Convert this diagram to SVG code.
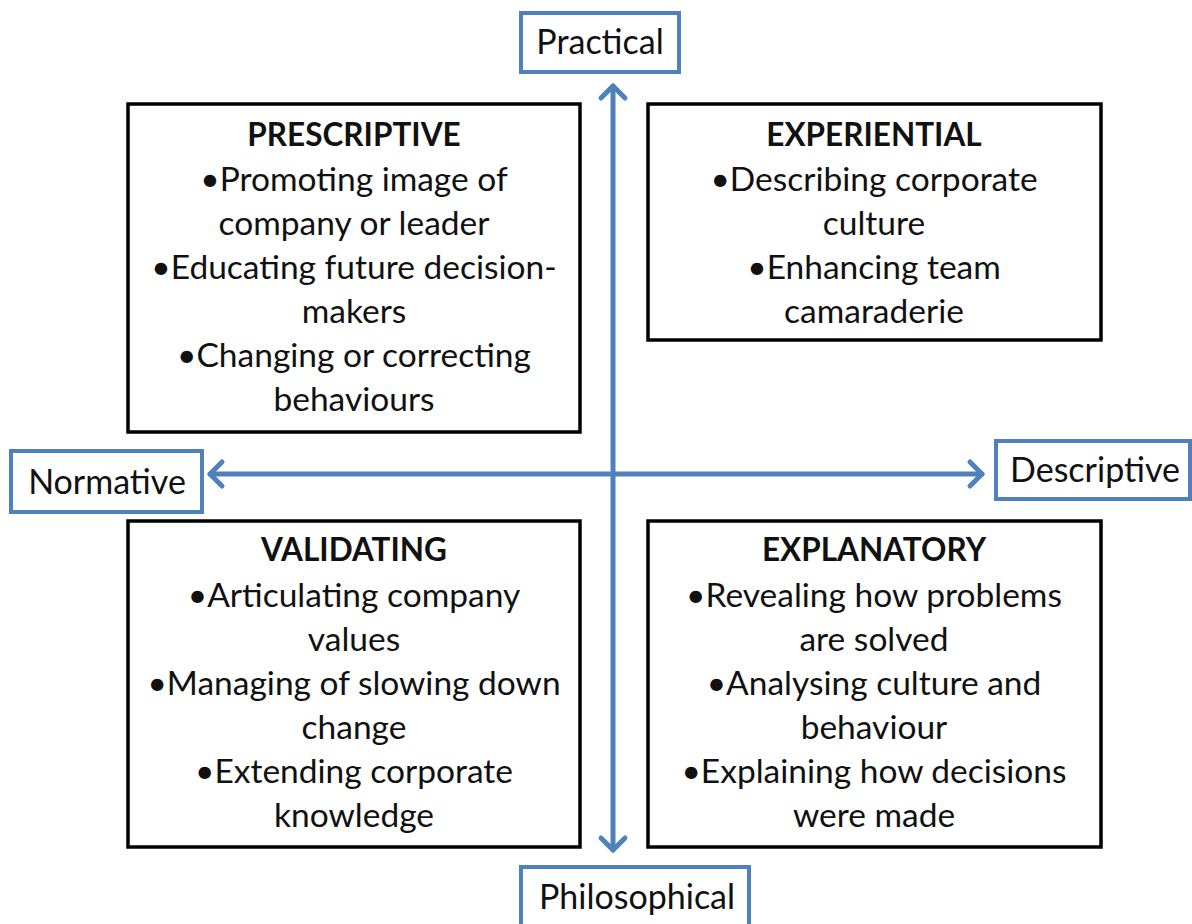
<svg xmlns="http://www.w3.org/2000/svg" width="1192" height="924" viewBox="0 0 1192 924">
<style>
.box{fill:#fff;stroke:#000;stroke-width:3.5}
.lbl{fill:#fff;stroke:#4f81bd;stroke-width:4}
.ax{fill:none;stroke:#4f81bd;stroke-width:5;stroke-linecap:round;stroke-linejoin:round}
text{font-family:Lato,"Open Sans","Liberation Sans",sans-serif;fill:#111;text-anchor:middle}
.t{font-size:31.5px;font-weight:bold}
.b{font-size:33.5px}
.l{font-size:34px}
</style>
<rect width="1192" height="924" fill="#fff"/>
<g id="axes">
<line class="ax" x1="613" y1="86" x2="613" y2="850"/>
<polyline class="ax" points="601,98 613,86 625,98"/>
<polyline class="ax" points="601,838 613,850 625,838"/>
<line class="ax" x1="210" y1="474" x2="982" y2="474"/>
<polyline class="ax" points="222,462 210,474 222,486"/>
<polyline class="ax" points="970,462 982,474 970,486"/>
</g>
<g id="practical">
<rect class="lbl" x="521" y="13" width="158" height="59"/>
<text class="l" x="600" y="54">Practical</text>
</g>
<g id="normative">
<rect class="lbl" x="11" y="451" width="191" height="61"/>
<text class="l" x="107" y="494">Normative</text>
</g>
<g id="descriptive">
<rect class="lbl" x="996" y="441" width="194" height="58"/>
<text class="l" x="1095" y="482">Descriptive</text>
</g>
<g id="philosophical">
<rect class="lbl" x="521" y="867" width="228" height="62"/>
<text class="l" x="637" y="909">Philosophical</text>
</g>
<g id="prescriptive">
<rect class="box" x="128" y="104" width="452" height="328"/>
<text class="t" x="354" y="146">PRESCRIPTIVE</text>
<text class="b" x="354" y="191">•Promoting image of</text>
<text class="b" x="354" y="235">company or leader</text>
<text class="b" x="354" y="279">•Educating future decision-</text>
<text class="b" x="354" y="323">makers</text>
<text class="b" x="354" y="367">•Changing or correcting</text>
<text class="b" x="354" y="411">behaviours</text>
</g>
<g id="experiential">
<rect class="box" x="648" y="104" width="453" height="236"/>
<text class="t" x="874" y="146">EXPERIENTIAL</text>
<text class="b" x="874" y="191">•Describing corporate</text>
<text class="b" x="874" y="235">culture</text>
<text class="b" x="874" y="279">•Enhancing team</text>
<text class="b" x="874" y="323">camaraderie</text>
</g>
<g id="validating">
<rect class="box" x="128" y="521" width="452" height="326"/>
<text class="t" x="354" y="561">VALIDATING</text>
<text class="b" x="354" y="607">•Articulating company</text>
<text class="b" x="354" y="651">values</text>
<text class="b" x="354" y="695">•Managing of slowing down</text>
<text class="b" x="354" y="739">change</text>
<text class="b" x="354" y="783">•Extending corporate</text>
<text class="b" x="354" y="827">knowledge</text>
</g>
<g id="explanatory">
<rect class="box" x="648" y="521" width="453" height="326"/>
<text class="t" x="874" y="561">EXPLANATORY</text>
<text class="b" x="874" y="607">•Revealing how problems</text>
<text class="b" x="874" y="651">are solved</text>
<text class="b" x="874" y="695">•Analysing culture and</text>
<text class="b" x="874" y="739">behaviour</text>
<text class="b" x="874" y="783">•Explaining how decisions</text>
<text class="b" x="874" y="827">were made</text>
</g>
</svg>
